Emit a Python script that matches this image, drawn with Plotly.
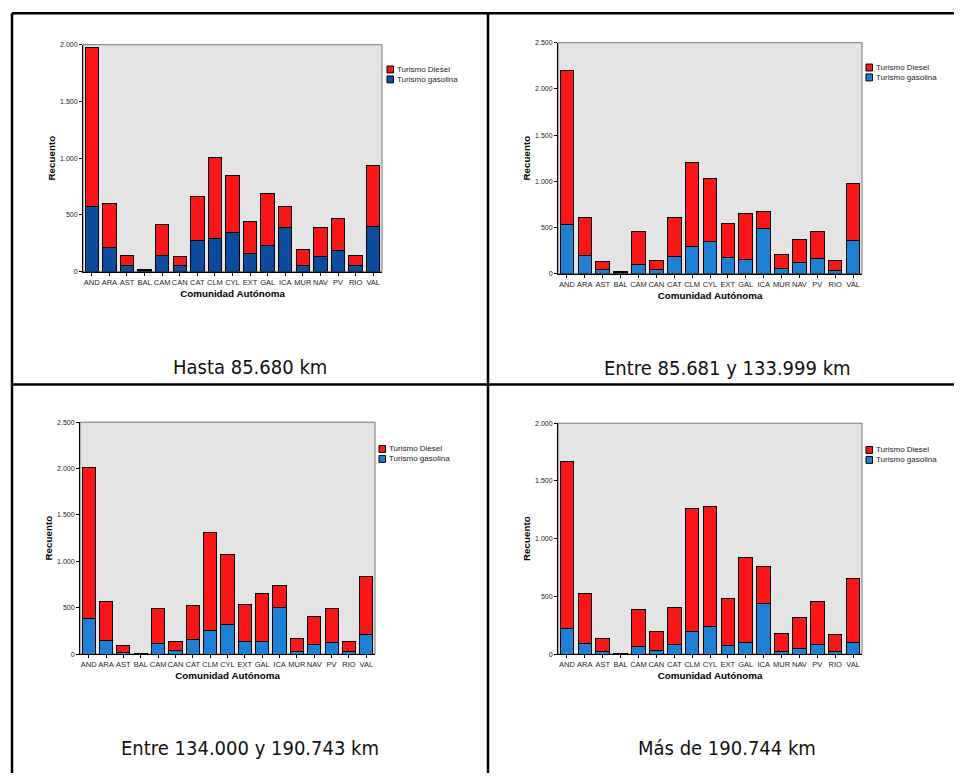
import plotly.graph_objects as go

# The page body has an 8px margin, so the figure is placed at (8, 8) in the window.
OFF = 8
W, H = 962 - OFF, 776 - OFF

categories = ["AND", "ARA", "AST", "BAL", "CAM", "CAN", "CAT", "CLM", "CYL",
              "EXT", "GAL", "ICA", "MUR", "NAV", "PV", "RIO", "VAL"]

# Panel 1: Hasta 85.680 km
p1_gasolina = [576, 210, 58, 10, 146, 58, 274, 294, 343, 160, 230, 393, 58, 131, 189, 50, 396]
p1_diesel = [1398, 390, 88, 10, 270, 79, 387, 710, 501, 282, 460, 183, 140, 256, 283, 96, 536]

# Panel 2: Entre 85.681 y 133.999 km
p2_gasolina = [534, 193, 43, 8, 100, 47, 186, 290, 344, 175, 150, 491, 54, 118, 158, 32, 355]
p2_diesel = [1669, 409, 90, 10, 351, 93, 419, 910, 688, 369, 498, 186, 154, 251, 297, 108, 616]

# Panel 3: Entre 134.000 y 190.743 km
p3_gasolina = [381, 146, 21, 5, 114, 39, 153, 256, 324, 135, 132, 499, 32, 107, 125, 28, 207]
p3_diesel = [1627, 420, 75, 6, 374, 100, 367, 1058, 748, 399, 516, 242, 135, 299, 363, 104, 633]

# Panel 4: Más de 190.744 km
p4_gasolina = [226, 89, 20, 3, 63, 29, 80, 195, 235, 77, 97, 438, 23, 46, 83, 26, 97]
p4_diesel = [1439, 432, 115, 3, 321, 171, 327, 1068, 1046, 401, 742, 324, 152, 269, 375, 143, 559]

captions = ["Hasta 85.680 km", "Entre 85.681 y 133.999 km",
            "Entre 134.000 y 190.743 km", "Más de 190.744 km"]
series_names = ["Turismo Diesel", "Turismo gasolina"]

y_max = [2000, 2500, 2500, 2000]
ytick_vals = [[0, 500, 1000, 1500, 2000],
              [0, 500, 1000, 1500, 2000, 2500],
              [0, 500, 1000, 1500, 2000, 2500],
              [0, 500, 1000, 1500, 2000]]
ytick_text = [["0", "500", "1.000", "1.500", "2.000"],
              ["0", "500", "1.000", "1.500", "2.000", "2.500"],
              ["0", "500", "1.000", "1.500", "2.000", "2.500"],
              ["0", "500", "1.000", "1.500", "2.000"]]

RED = "#FA1616"
BLUE_DARK = "#0B4C9E"
BLUE_LIGHT = "#1F80D3"
gas_colors = [BLUE_DARK, BLUE_LIGHT, BLUE_LIGHT, BLUE_LIGHT]

gasolina = [p1_gasolina, p2_gasolina, p3_gasolina, p4_gasolina]
diesel = [p1_diesel, p2_diesel, p3_diesel, p4_diesel]


def px(xp):
    return (xp - OFF) / W


def py(yp):
    return 1 - (yp - OFF) / H


# plot areas in window pixels: (left, right, top, bottom)
boxes = [(83, 382, 41, 270), (558, 862, 39, 272), (80, 375, 422, 656), (558, 862, 423, 656)]
legend_pos = [(387, 66), (866, 64), (379, 449), (866, 450)]
caption_pos = [(250, 366), (727, 367), (250, 751), (727, 751)]

FONT = "Liberation Sans, Arial, sans-serif"
CAP_FONT = "DejaVu Sans Condensed, Liberation Sans Narrow, Roboto Condensed, Arial Narrow, Liberation Sans, sans-serif"

fig = go.Figure()
shapes = []
annotations = []
layout_axes = {}

for i in range(4):
    xa = "x" if i == 0 else f"x{i+1}"
    ya = "y" if i == 0 else f"y{i+1}"
    fig.add_trace(go.Bar(x=categories, y=gasolina[i], name=series_names[1],
                         marker=dict(color=gas_colors[i], line=dict(color="black", width=1)),
                         xaxis=xa, yaxis=ya, showlegend=False))
    fig.add_trace(go.Bar(x=categories, y=diesel[i], name=series_names[0],
                         marker=dict(color=RED, line=dict(color="black", width=1)),
                         xaxis=xa, yaxis=ya, showlegend=False))
    l, r, t, b = boxes[i]
    xkey = "xaxis" if i == 0 else f"xaxis{i+1}"
    ykey = "yaxis" if i == 0 else f"yaxis{i+1}"
    layout_axes[xkey] = dict(
        domain=[px(l), px(r)], anchor=ya, type="category",
        showline=True, linecolor="black", linewidth=1,
        ticks="outside", ticklen=3, tickcolor="black",
        tickfont=dict(family=FONT, size=7.5, color="#222"),
        showgrid=False, zeroline=False, fixedrange=True,
        title=dict(text="<b>Comunidad Autónoma</b>", font=dict(family=FONT, size=9.8, color="black"), standoff=4),
        tickangle=0,
    )
    layout_axes[ykey] = dict(
        domain=[py(b), py(t)], anchor=xa, range=[0, y_max[i]],
        tickvals=ytick_vals[i], ticktext=ytick_text[i],
        showline=True, linecolor="black", linewidth=1,
        ticks="outside", ticklen=3, tickcolor="black",
        tickfont=dict(family=FONT, size=7, color="#222"),
        showgrid=False, zeroline=False, fixedrange=True,
        title=dict(text="<b>Recuento</b>", font=dict(family=FONT, size=9.8, color="black"), standoff=2),
    )
    # gray frame on top/right
    shapes.append(dict(type="rect", xref="paper", yref="paper",
                       x0=px(l), x1=px(r), y0=py(b), y1=py(t),
                       line=dict(color="#777", width=1), layer="below"))
    # legend
    lx, ly = legend_pos[i]
    for k, (nm, col) in enumerate([(series_names[0], RED), (series_names[1], gas_colors[i])]):
        cy = ly + k * 10
        shapes.append(dict(type="rect", xref="paper", yref="paper",
                           x0=px(lx), x1=px(lx + 6.5), y0=py(cy + 3.5), y1=py(cy - 3.5),
                           fillcolor=col, line=dict(color="black", width=1)))
        annotations.append(dict(text=nm, xref="paper", yref="paper", x=px(lx + 8), y=py(cy),
                                xanchor="left", yanchor="middle", showarrow=False,
                                font=dict(family=FONT, size=8, color="#222")))
    cx, cy = caption_pos[i]
    annotations.append(dict(text=captions[i], xref="paper", yref="paper", x=px(cx), y=py(cy),
                            xanchor="center", yanchor="middle", showarrow=False,
                            font=dict(family=CAP_FONT, size=20, color="#111")))

# table borders (window pixel coordinates)
for (x0, y0, x1, y1) in [(12, 9.2, 962, 9.2), (12, 384, 962, 384), (12, 9.2, 12, 776), (488, 9.2, 488, 776)]:
    shapes.append(dict(type="line", xref="paper", yref="paper",
                       x0=px(x0), x1=px(x1), y0=py(y0), y1=py(y1),
                       line=dict(color="black", width=2.5)))

fig.update_layout(
    width=W, height=H, margin=dict(l=0, r=0, t=0, b=0),
    paper_bgcolor="white", plot_bgcolor="#E4E4E4",
    barmode="stack", bargap=0.24,
    shapes=shapes, annotations=annotations,
    font=dict(family=FONT),
    **layout_axes,
)

fig.write_html("out.html")
